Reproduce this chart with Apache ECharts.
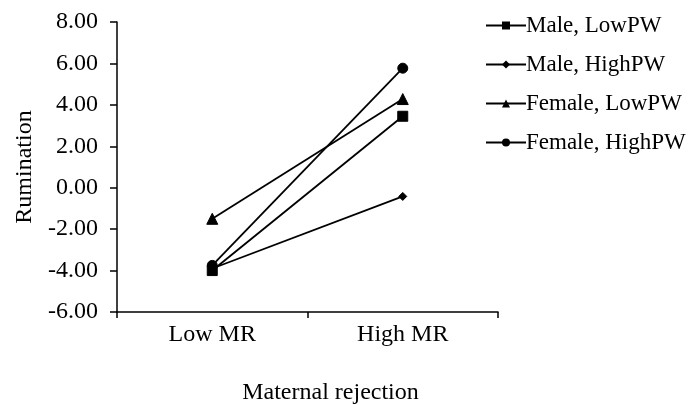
<!DOCTYPE html>
<html>
<head>
<meta charset="utf-8">
<script src="https://cdn.jsdelivr.net/npm/echarts@6/dist/echarts.min.js"></script>
<style>
  html, body { margin: 0; padding: 0; background: #fff; }
  #main { width: 690px; height: 405px; }
</style>
</head>
<body>
<div id="main"></div>
<script>
const categories = ['Low MR', 'High MR']
const seriesNames = ['Male, LowPW', 'Male, HighPW', 'Female, LowPW', 'Female, HighPW']
const maleLow = [-4.0, 3.45]
const maleHigh = [-3.9, -0.42]
const femaleLow = [-1.5, 4.28]
const femaleHigh = [-3.75, 5.77]
const symbols = ['rect', 'diamond', 'triangle', 'circle']
const symbolSizes = [10, 8, 11, 10]

const font = 'Liberation Serif, Times New Roman, serif'
const myChart = echarts.init(document.getElementById('main'))

const values = [maleLow, maleHigh, femaleLow, femaleHigh]

myChart.setOption({
    animation: false,
    textStyle: { fontFamily: font, color: '#000' },
    grid: { left: 117, top: 22, right: 192, bottom: 93, outerBoundsMode: 'none', containLabel: false },
    legend: {
        orient: 'vertical',
        left: 480,
        top: 9,
        itemWidth: 40,
        itemHeight: 10,
        itemGap: 16,
        textStyle: { fontFamily: font, fontSize: 23, color: '#000', padding: [0, 0, 0, -5] },
        data: seriesNames
    },
    xAxis: {
        type: 'category',
        data: categories,
        boundaryGap: true,
        name: 'Maternal rejection',
        nameLocation: 'middle',
        nameGap: 69,
        nameTextStyle: { fontFamily: font, fontSize: 24, color: '#000', padding: [0, 0, 0, 46] },
        axisLine: { onZero: false, lineStyle: { color: '#000', width: 1.5 } },
        axisTick: { show: true, length: 6, lineStyle: { color: '#000', width: 1.5 } },
        axisLabel: { fontFamily: font, fontSize: 24, color: '#000', margin: 11 }
    },
    yAxis: {
        type: 'value',
        min: -6,
        max: 8,
        interval: 2,
        name: 'Rumination',
        nameLocation: 'middle',
        nameGap: 80,
        nameRotate: 90,
        nameTextStyle: { fontFamily: font, fontSize: 24, color: '#000' },
        splitLine: { show: false },
        axisLine: { show: true, lineStyle: { color: '#000', width: 1.5 } },
        axisTick: { show: true, length: 7, lineStyle: { color: '#000', width: 1.5 } },
        axisLabel: {
            fontFamily: font, fontSize: 24, color: '#000', margin: 19,
            formatter: v => v.toFixed(2)
        }
    },
    series: seriesNames.map((name, i) => ({
        name: name,
        type: 'line',
        data: values[i],
        symbol: symbols[i],
        symbolSize: symbolSizes[i],
        showAllSymbol: true,
        lineStyle: { color: '#000', width: 1.8 },
        itemStyle: { color: '#000', borderColor: '#000' }
    }))
})
</script>
</body>
</html>
